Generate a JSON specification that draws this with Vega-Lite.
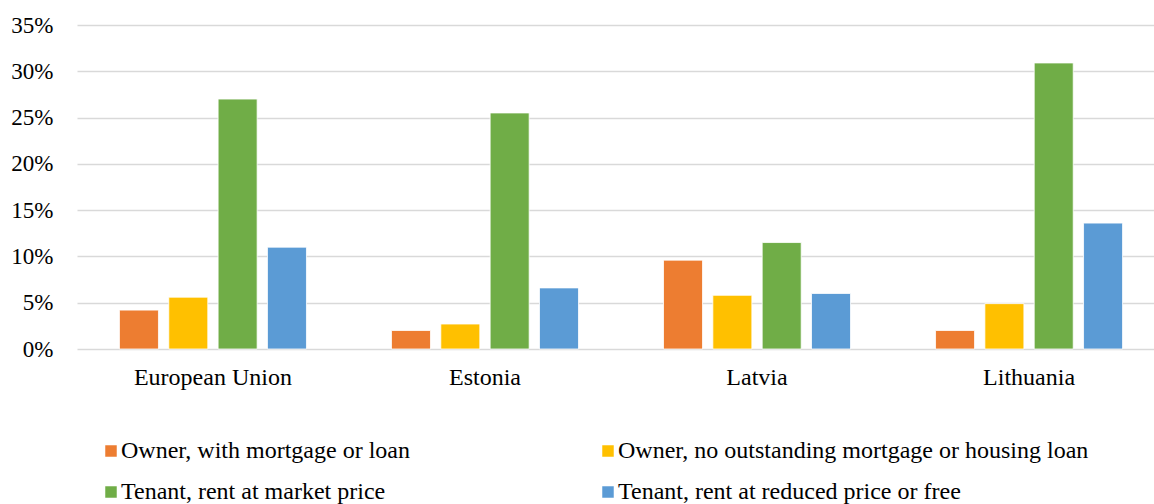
{
  "$schema": "https://vega.github.io/schema/vega-lite/v6.json",
  "autosize": {"type": "none"},
  "width": 1088,
  "height": 324,
  "padding": {"left": 77, "top": 25, "right": 0, "bottom": 155},
  "background": "white",
  "data": {"values": [
    {"country": "European Union", "type": "Owner, with mortgage or loan", "value": 0.042},
    {"country": "European Union", "type": "Owner, no outstanding mortgage or housing loan", "value": 0.056},
    {"country": "European Union", "type": "Tenant, rent at market price", "value": 0.270},
    {"country": "European Union", "type": "Tenant, rent at reduced price or free", "value": 0.110},
    {"country": "Estonia", "type": "Owner, with mortgage or loan", "value": 0.020},
    {"country": "Estonia", "type": "Owner, no outstanding mortgage or housing loan", "value": 0.027},
    {"country": "Estonia", "type": "Tenant, rent at market price", "value": 0.255},
    {"country": "Estonia", "type": "Tenant, rent at reduced price or free", "value": 0.066},
    {"country": "Latvia", "type": "Owner, with mortgage or loan", "value": 0.096},
    {"country": "Latvia", "type": "Owner, no outstanding mortgage or housing loan", "value": 0.058},
    {"country": "Latvia", "type": "Tenant, rent at market price", "value": 0.115},
    {"country": "Latvia", "type": "Tenant, rent at reduced price or free", "value": 0.060},
    {"country": "Lithuania", "type": "Owner, with mortgage or loan", "value": 0.020},
    {"country": "Lithuania", "type": "Owner, no outstanding mortgage or housing loan", "value": 0.049},
    {"country": "Lithuania", "type": "Tenant, rent at market price", "value": 0.309},
    {"country": "Lithuania", "type": "Tenant, rent at reduced price or free", "value": 0.136}
  ]},
  "mark": {"type": "bar", "stroke": "white", "strokeWidth": 0.8},
  "encoding": {
    "x": {
      "field": "country", "type": "nominal",
      "sort": ["European Union", "Estonia", "Latvia", "Lithuania"],
      "scale": {"paddingInner": 0.3125, "paddingOuter": 0.156},
      "axis": {"title": null, "labelAngle": 0, "ticks": false, "domain": false, "labelPadding": 16, "labelFont": "Liberation Serif", "labelFontSize": 24, "labelColor": "#000000"}
    },
    "xOffset": {
      "field": "type", "type": "nominal",
      "sort": ["Owner, with mortgage or loan", "Owner, no outstanding mortgage or housing loan", "Tenant, rent at market price", "Tenant, rent at reduced price or free"],
      "scale": {"paddingInner": 0.209, "paddingOuter": 0}
    },
    "y": {
      "field": "value", "type": "quantitative",
      "scale": {"domain": [0, 0.35], "nice": false},
      "axis": {"title": null, "format": ".0%", "values": [0, 0.05, 0.1, 0.15, 0.2, 0.25, 0.3, 0.35], "ticks": false, "domain": false, "labelPadding": 24, "labelFont": "Liberation Serif", "labelFontSize": 23, "labelColor": "#000000", "gridColor": "#d9d9d9", "gridWidth": 1.5}
    },
    "color": {
      "field": "type", "type": "nominal",
      "sort": ["Owner, with mortgage or loan", "Owner, no outstanding mortgage or housing loan", "Tenant, rent at market price", "Tenant, rent at reduced price or free"],
      "scale": {"range": ["#ED7D31", "#FFC000", "#70AD47", "#5B9BD5"]},
      "legend": {"title": null, "orient": "none", "legendX": 22, "legendY": 414, "direction": "horizontal", "columns": 2, "columnPadding": 186, "rowPadding": 17, "symbolType": "square", "symbolSize": 132, "symbolStrokeWidth": 0, "labelOffset": -2, "labelFont": "Liberation Serif", "labelFontSize": 24, "labelColor": "#000000", "labelLimit": 700}
    }
  },
  "config": {"view": {"stroke": null}, "font": "Liberation Serif"}
}
